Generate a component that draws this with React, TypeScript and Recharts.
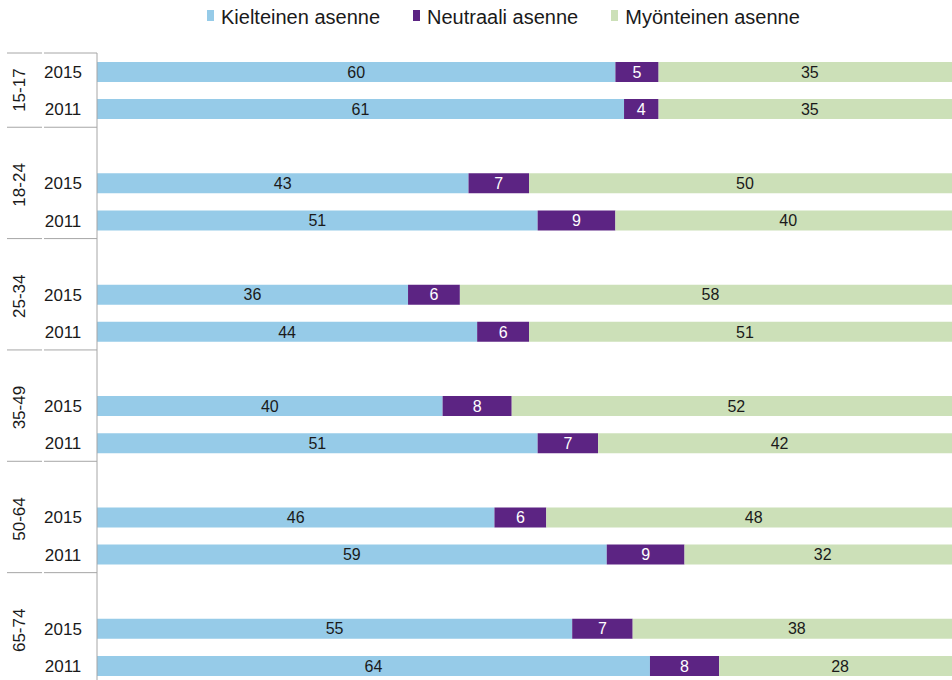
import { BarChart, Bar, XAxis, YAxis, Legend, LabelList } from "recharts";

const groups = ["15-17", "18-24", "25-34", "35-49", "50-64", "65-74"];
const years = ["2015", "2011"];

// top to bottom: 15-17 2015, 15-17 2011, 18-24 2015, ...
const kielteinen = [60, 61, 43, 51, 36, 44, 40, 51, 46, 59, 55, 64];
const neutraali = [5, 4, 7, 9, 6, 6, 8, 7, 6, 9, 7, 8];
const myonteinen = [35, 35, 50, 40, 58, 51, 52, 42, 48, 32, 38, 28];

const series = [
  { key: "k", name: "Kielteinen asenne", color: "#96CBE8", text: "#1a1a1a" },
  { key: "n", name: "Neutraali asenne", color: "#5C2483", text: "#ffffff" },
  { key: "m", name: "Myönteinen asenne", color: "#CCE0B8", text: "#1a1a1a" },
];

type Row = {
  key: string;
  group?: string;
  year?: string;
  gi?: number;
  k?: number;
  n?: number;
  m?: number;
};

const rows: Row[] = [];
groups.forEach((g, gi) => {
  if (gi > 0) rows.push({ key: `gap-${gi}` });
  years.forEach((y, yi) => {
    const i = gi * 2 + yi;
    rows.push({ key: `${g}-${y}`, group: g, year: y, gi, k: kielteinen[i], n: neutraali[i], m: myonteinen[i] });
  });
});

const W = 972;
const H = 690;
const MARGIN = { top: 53, right: 11, bottom: 6, left: 0 };
const AXIS_W = 97;
const SLOT = (H - MARGIN.top - MARGIN.bottom) / rows.length;
const GRID = "#a6a6a6";
const FONT = "'Liberation Sans', Arial, sans-serif";

const Separator = ({ y }: { y: number }) => (
  <g>
    <line x1={7} x2={42} y1={y} y2={y} stroke={GRID} strokeWidth={1} />
    <line x1={44} x2={AXIS_W} y1={y} y2={y} stroke={GRID} strokeWidth={1} />
  </g>
);

const renderTick = (props: any) => {
  const { y, payload } = props;
  const row = rows.find((r) => r.key === payload.value);
  if (!row || !row.year) return <g />;
  const first = row.year === years[0];
  const cy = row.gi === 0 ? y + SLOT / 2 : y + 2;
  return (
    <g>
      <text x={63} y={y + 1} textAnchor="middle" dominantBaseline="central" fontSize={17} fill="#1a1a1a">
        {row.year}
      </text>
      {first && (
        <text
          x={20}
          y={cy}
          textAnchor="middle"
          dominantBaseline="central"
          fontSize={17}
          fill="#1a1a1a"
          transform={`rotate(-90 20 ${cy})`}
        >
          {row.group}
        </text>
      )}
      {first && row.gi === 0 && <Separator y={y - SLOT / 2} />}
      {!first && <Separator y={y + SLOT / 2} />}
    </g>
  );
};

const renderLegend = () => (
  <div style={{ display: "flex", gap: 33, fontSize: 20, lineHeight: "24px", color: "#1a1a1a" }}>
    {series.map((s) => (
      <div key={s.key} style={{ display: "flex", alignItems: "center" }}>
        <span style={{ display: "inline-block", width: 7, height: 11, background: s.color, marginRight: 7, marginTop: -3 }} />
        <span>{s.name}</span>
      </div>
    ))}
  </div>
);

export default function App() {
  return (
    <div
      style={{
        position: "absolute",
        left: 0,
        top: 0,
        width: 952,
        height: 680,
        overflow: "hidden",
        background: "#fff",
        fontFamily: FONT,
      }}
    >
      <BarChart width={W} height={H} data={rows} layout="vertical" margin={MARGIN} barSize={20}>
        <XAxis type="number" domain={[0, 100]} allowDataOverflow hide />
        <YAxis
          type="category"
          dataKey="key"
          width={AXIS_W}
          tickLine={false}
          axisLine={{ stroke: GRID }}
          tick={renderTick}
          interval={0}
        />
        <Legend
          layout="horizontal"
          verticalAlign="middle"
          align="center"
          content={renderLegend}
          wrapperStyle={{ top: 5, left: 207, width: "auto", height: 24 }}
        />
        {series.map((s) => (
          <Bar key={s.key} dataKey={s.key} name={s.name} stackId="a" fill={s.color} isAnimationActive={false}>
            <LabelList dataKey={s.key} position="center" fill={s.text} fontSize={16} />
          </Bar>
        ))}
      </BarChart>
    </div>
  );
}
